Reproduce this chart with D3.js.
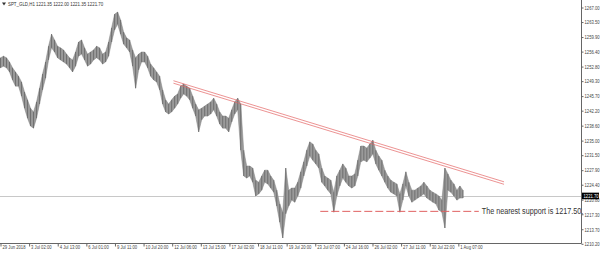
<!DOCTYPE html>
<html>
<head>
<meta charset="utf-8">
<script src="https://cdn.jsdelivr.net/npm/d3@7"></script>
<style>
  html, body { margin: 0; padding: 0; background: #fff; }
  svg { display: block; font-family: "Liberation Sans", Arial, sans-serif; }
</style>
</head>
<body>
<script>
const highs = [
  1254.9, 1255.3, 1254.9, 1253.9, 1252.5, 1251.5, 1250.5, 1249.1, 1246.7, 1244.8,
  1242.8, 1241.9, 1244.3, 1247.6, 1251.0, 1253.9, 1257.7, 1260.6, 1259.2, 1257.7,
  1257.3, 1256.8, 1255.8, 1254.9, 1254.4, 1256.3, 1258.7, 1259.2, 1257.3, 1255.8,
  1256.3, 1256.8, 1257.7, 1257.3, 1255.8, 1256.3, 1258.7, 1262.1, 1265.4, 1265.9,
  1264.0, 1261.1, 1259.7, 1259.2, 1256.8, 1254.9, 1255.8, 1256.3, 1256.3, 1255.3,
  1253.4, 1252.5, 1251.5, 1250.5, 1247.2, 1244.8, 1243.8, 1244.8, 1245.7, 1246.2,
  1248.1, 1248.6, 1248.1, 1247.6, 1245.7, 1243.8, 1242.4, 1242.8, 1243.3, 1243.8,
  1244.3, 1245.2, 1243.8, 1241.9, 1240.9, 1240.9, 1240.4, 1242.4, 1244.3, 1245.2,
  1243.8, 1232.7, 1228.9, 1228.9, 1228.4, 1225.5, 1225.0, 1226.5, 1227.9, 1227.9,
  1226.5, 1225.5, 1223.1, 1219.8, 1217.8, 1228.4, 1223.1, 1223.6, 1223.6, 1225.0,
  1227.5, 1229.9, 1232.7, 1234.7, 1234.2, 1232.7, 1231.8, 1228.4, 1226.5, 1226.0,
  1225.5, 1222.6, 1226.5, 1227.9, 1229.4, 1228.4, 1226.5, 1226.5, 1227.0, 1230.3,
  1233.7, 1233.7, 1233.2, 1234.2, 1235.1, 1232.7, 1231.3, 1230.3, 1227.9, 1226.5,
  1225.5, 1225.0, 1224.6, 1222.2, 1224.6, 1227.5, 1225.0, 1223.1, 1223.1, 1223.6,
  1224.1, 1225.0, 1224.1, 1223.1, 1222.6, 1222.2, 1221.7, 1220.7, 1228.4, 1227.0,
  1225.5, 1224.6, 1223.1, 1224.1, 1223.1
];
const lows = [
  1252.5, 1252.9, 1252.5, 1251.5, 1249.6, 1248.1, 1248.1, 1245.7, 1242.8, 1240.4,
  1238.5, 1238.0, 1240.4, 1243.8, 1247.2, 1250.0, 1254.4, 1257.3, 1256.3, 1254.9,
  1254.4, 1253.9, 1253.4, 1252.5, 1251.5, 1252.9, 1255.3, 1255.8, 1254.4, 1252.9,
  1253.4, 1254.4, 1254.9, 1254.4, 1253.4, 1253.9, 1255.3, 1258.7, 1261.6, 1263.0,
  1260.6, 1258.2, 1257.3, 1256.3, 1252.9, 1247.6, 1252.0, 1253.9, 1253.9, 1252.5,
  1250.5, 1249.6, 1249.1, 1247.2, 1243.8, 1241.9, 1241.4, 1241.9, 1242.8, 1243.8,
  1245.2, 1246.2, 1245.7, 1244.8, 1242.8, 1240.9, 1237.1, 1240.0, 1240.9, 1240.9,
  1241.4, 1242.4, 1240.9, 1239.0, 1238.0, 1238.0, 1237.1, 1239.5, 1241.4, 1242.4,
  1232.7, 1226.5, 1226.0, 1226.5, 1225.0, 1221.7, 1222.2, 1223.1, 1225.0, 1224.6,
  1223.6, 1222.6, 1219.3, 1215.4, 1211.6, 1217.4, 1219.3, 1220.7, 1220.2, 1221.7,
  1223.6, 1226.5, 1228.9, 1231.3, 1230.3, 1229.4, 1228.4, 1225.0, 1224.1, 1223.1,
  1222.2, 1217.8, 1221.7, 1224.1, 1226.0, 1225.0, 1224.1, 1223.6, 1224.1, 1226.5,
  1229.9, 1230.3, 1229.9, 1230.8, 1231.8, 1229.4, 1227.9, 1226.5, 1225.0, 1223.6,
  1222.6, 1222.2, 1221.7, 1217.8, 1220.7, 1224.1, 1221.7, 1220.2, 1220.7, 1221.2,
  1221.7, 1222.2, 1221.2, 1220.7, 1220.2, 1219.8, 1218.3, 1217.8, 1214.0, 1223.1,
  1222.6, 1221.7, 1220.7, 1221.2, 1221.2
];

const timeLabels = [
  "29 Jun 2018", "3 Jul 02:00", "4 Jul 13:00", "6 Jul 01:00", "9 Jul 11:00",
  "10 Jul 20:00", "12 Jul 06:00", "13 Jul 15:00", "17 Jul 02:00", "18 Jul 11:00",
  "19 Jul 20:00", "23 Jul 07:00", "24 Jul 16:00", "26 Jul 02:00", "27 Jul 11:00",
  "30 Jul 22:00", "1 Aug 07:00"
];
const samplesPerLabel = 9.53;

const priceTicks = [
  1267.00, 1263.50, 1259.90, 1256.40, 1252.80, 1249.30, 1245.70, 1242.20, 1238.60,
  1235.00, 1231.50, 1227.90, 1224.40, 1220.80, 1217.30, 1213.70, 1210.20
];

const header = "SPT_GLD,H1  1221.35 1222.00 1221.35 1221.70";
const lastPrice = 1221.70;

// resistance trendline (sample index, price) and support level
const trendStart = [57.6, 1249.1];
const trendEnd = [167.7, 1224.8];
const supportLevel = 1218.0;
const supportFrom = 106.5, supportTo = 159.3;
const supportText = "The nearest support is 1217.50.";

const width = 600, height = 254;
const plot = { left: 0, right: 581.5, top: 0, bottom: 243.5 };

const x = d3.scaleLinear().domain([0, 193.5]).range([0.5, plot.right]);
const y = d3.scaleLinear().domain([1210.2, 1267.0]).range([243.8, 7.5]);

const svg = d3.select("body").append("svg")
  .attr("width", width)
  .attr("height", height);

// the screenshot fonts are narrow: squash text horizontally
function squash(sel, k) {
  sel.each(function () {
    const t = d3.select(this);
    const tx = +t.attr("x") || 0;
    const dx = parseFloat(t.attr("dx")) || 0;
    t.attr("x", tx / k).attr("dx", dx / k).attr("transform", `scale(${k},1)`);
  });
}

function label(px, py, size, k, fill, str) {
  return svg.append("text")
    .attr("transform", `translate(${px},${py}) scale(${k},1)`)
    .attr("font-size", size)
    .attr("fill", fill)
    .text(str);
}

// last price line
svg.append("line")
  .attr("x1", plot.left).attr("x2", plot.right)
  .attr("y1", Math.round(y(lastPrice)) + 0.5).attr("y2", Math.round(y(lastPrice)) + 0.5)
  .attr("stroke", "#c8c8c8").attr("stroke-width", 1);

// price bars: band between highs and lows, bar strokes on top
const idx = d3.range(highs.length);
const area = d3.area()
  .x((i) => x(i))
  .y0((i) => y(lows[i]))
  .y1((i) => y(highs[i]));

svg.append("path")
  .datum(idx)
  .attr("d", area)
  .attr("fill", "#9a9a9a")
  .attr("stroke", "#858585")
  .attr("stroke-width", 0.5);

svg.append("g")
  .selectAll("line")
  .data(idx)
  .join("line")
  .attr("x1", (i) => x(i)).attr("x2", (i) => x(i))
  .attr("y1", (i) => y(highs[i])).attr("y2", (i) => y(lows[i]))
  .attr("stroke", "#707070")
  .attr("stroke-width", 1);

// trendline, drawn double
[-0.3, 0.3].forEach((off) => {
  svg.append("line")
    .attr("x1", x(trendStart[0])).attr("y1", y(trendStart[1] + off))
    .attr("x2", x(trendEnd[0])).attr("y2", y(trendEnd[1] + off))
    .attr("stroke", "#e46464")
    .attr("stroke-width", 0.7);
});

// support
svg.append("line")
  .attr("x1", x(supportFrom)).attr("x2", x(supportTo))
  .attr("y1", y(supportLevel)).attr("y2", y(supportLevel))
  .attr("stroke", "#e06060")
  .attr("stroke-width", 1)
  .attr("stroke-dasharray", "8,3");

label(x(supportTo) + 3, y(supportLevel) + 3, 9, 0.8, "#333", supportText);

// right price axis
const yAxis = d3.axisRight(y)
  .tickValues(priceTicks)
  .tickFormat(d3.format(".2f"))
  .tickSize(2)
  .tickPadding(1);

const gy = svg.append("g")
  .attr("transform", `translate(${plot.right},0)`)
  .call(yAxis);
gy.select(".domain").attr("stroke", "#666").attr("d", `M0,0V${plot.bottom}`);
gy.selectAll(".tick line").attr("stroke", "#666");
gy.selectAll(".tick text")
  .attr("font-size", 5.5)
  .attr("fill", "#444")
  .call(squash, 0.76);

// current price marker
const cpY = y(lastPrice);
svg.append("rect")
  .attr("x", plot.right + 0.5).attr("y", cpY - 3.3)
  .attr("width", 17).attr("height", 6.6)
  .attr("fill", "#000");
label(plot.right + 2, cpY + 2, 5.5, 0.76, "#fff", d3.format(".2f")(lastPrice));

// bottom time axis
const xAxis = d3.axisBottom(x)
  .tickValues(timeLabels.map((_, k) => k * samplesPerLabel))
  .tickFormat((_, k) => timeLabels[k])
  .tickSize(3)
  .tickPadding(0);

const gx = svg.append("g")
  .attr("transform", `translate(0,${plot.bottom})`)
  .call(xAxis);
gx.select(".domain").attr("stroke", "#666").attr("d", `M0,0H${plot.right}`);
gx.selectAll(".tick line").attr("stroke", "#666");
gx.selectAll(".tick text")
  .attr("text-anchor", "start")
  .attr("dx", 1.5)
  .attr("y", 1.5)
  .attr("font-size", 5.5)
  .attr("fill", "#444")
  .call(squash, 0.76);

// header
svg.append("path")
  .attr("d", "M2,2.5 L6,2.5 L4,5.5 Z")
  .attr("fill", "#333");
label(8, 6, 5.5, 0.8, "#333", header);
</script>
</body>
</html>
